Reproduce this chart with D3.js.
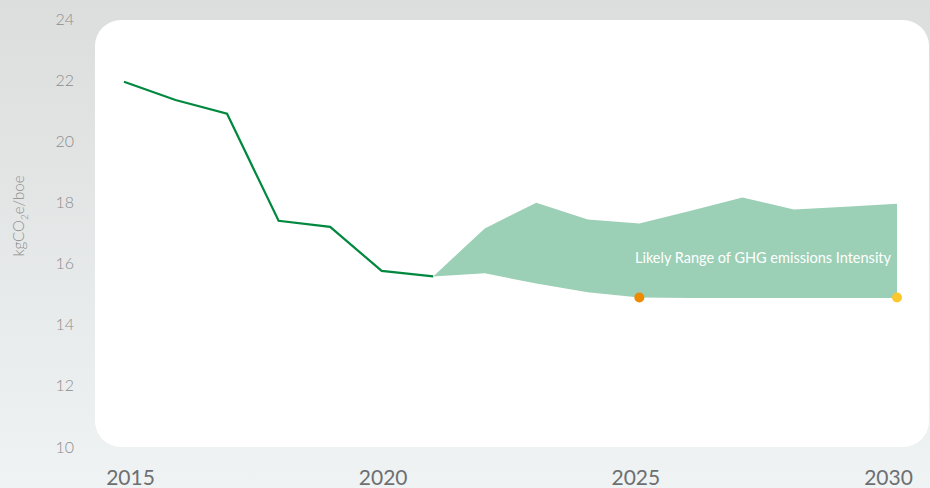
<!DOCTYPE html>
<html>
<head>
<meta charset="utf-8">
<script src="https://cdnjs.cloudflare.com/ajax/libs/d3/7.8.5/d3.min.js"></script>
<style>
  html, body { margin: 0; padding: 0; }
  body { width: 930px; height: 488px; overflow: hidden; }
  svg { display: block; font-family: Lato, "Open Sans", sans-serif; }
</style>
</head>
<body>
<svg id="chart" width="930" height="488"></svg>
<script>
// history (actual) emissions intensity
var histYears = [2015, 2016, 2017, 2018, 2019, 2020, 2021];
var histValues = [21.95, 21.35, 20.9, 17.4, 17.2, 15.76, 15.58];

// likely range band
var rangeYears = [2021, 2022, 2023, 2024, 2025, 2026, 2027, 2028, 2029, 2030];
var rangeHigh = [15.58, 17.15, 17.99, 17.44, 17.31, 17.73, 18.16, 17.77, 17.86, 17.96];
var rangeLow = [15.58, 15.68, 15.35, 15.06, 14.89, 14.87, 14.87, 14.87, 14.87, 14.87];

// target markers
var targetYears = [2025, 2030];
var targetValues = [14.89, 14.89];
var targetColors = ["#ee8a00", "#fcc72c"];

var yTicks = [10, 12, 14, 16, 18, 20, 22, 24];
var xTickLabels = ["2015", "2020", "2025", "2030"];
var bandLabel = "Likely Range of GHG emissions Intensity";

var svg = d3.select("#chart"),
    width = +svg.attr("width"),
    height = +svg.attr("height");

var defs = svg.append("defs");
var grad = defs.append("linearGradient").attr("id", "bg").attr("x1", 0).attr("y1", 0).attr("x2", 0).attr("y2", 1);
grad.append("stop").attr("offset", "0%").attr("stop-color", "#dcdddd");
grad.append("stop").attr("offset", "100%").attr("stop-color", "#eff3f3");

svg.append("rect").attr("width", width).attr("height", height).attr("fill", "url(#bg)");

// white panel
svg.append("rect")
    .attr("x", 95).attr("y", 20)
    .attr("width", 834).attr("height", 427)
    .attr("rx", 26).attr("ry", 26)
    .attr("fill", "#ffffff");

var x = d3.scaleLinear().domain([2015, 2030]).range([124, 897]);
var y = d3.scaleLinear().domain([10, 24]).range([447, 19]);
// category-style axis labels sit slightly off the data positions
var xLab = d3.scaleLinear().domain([2015, 2030]).range([130, 888]);

// y axis
var yAxis = svg.append("g")
    .attr("transform", "translate(74,0)")
    .call(d3.axisLeft(y).tickValues(yTicks).tickSize(0).tickPadding(0));
yAxis.select(".domain").remove();
yAxis.selectAll("text")
    .attr("fill", "#8b8c8d")
    .style("font-size", "16px")
    .style("font-weight", 300)
    .style("font-family", "Lato, sans-serif");

// x axis
var xAxis = svg.append("g")
    .attr("transform", "translate(0,470)")
    .call(d3.axisBottom(xLab).tickValues(xTickLabels.map(Number)).tickFormat(function(d, i) { return xTickLabels[i]; }).tickSize(0).tickPadding(0));
xAxis.select(".domain").remove();
xAxis.selectAll("text")
    .attr("fill", "#6d6f71")
    .style("font-size", "21px")
    .style("font-weight", 400)
    .style("font-family", "Lato, sans-serif");

// y axis title
var yTitle = svg.append("text")
    .attr("transform", "translate(24,216) rotate(-90)")
    .attr("text-anchor", "middle")
    .attr("fill", "#8b8c8d")
    .style("font-size", "15px")
    .style("font-weight", 300);
yTitle.append("tspan").text("kgCO");
yTitle.append("tspan").attr("font-size", "10px").attr("dy", "4").text("2");
yTitle.append("tspan").attr("dy", "-4").text("e/boe");

// range band
var area = d3.area()
    .x(function(d, i) { return x(rangeYears[i]); })
    .y0(function(d, i) { return y(rangeLow[i]); })
    .y1(function(d) { return y(d); });

svg.append("path")
    .datum(rangeHigh)
    .attr("d", area)
    .attr("fill", "#9bcfb6");

svg.append("text")
    .attr("x", x(2027.4))
    .attr("y", y(16.0) - 1)
    .attr("text-anchor", "middle")
    .attr("fill", "#ffffff")
    .style("font-size", "14.5px")
    .text(bandLabel);

// history line
var line = d3.line()
    .x(function(d, i) { return x(histYears[i]); })
    .y(function(d) { return y(d); });

svg.append("path")
    .datum(histValues)
    .attr("d", line)
    .attr("fill", "none")
    .attr("stroke", "#00883f")
    .attr("stroke-width", 2.2);

// target dots
svg.selectAll(".target")
    .data(targetValues)
    .enter().append("circle")
    .attr("class", "target")
    .attr("cx", function(d, i) { return x(targetYears[i]); })
    .attr("cy", function(d) { return y(d); })
    .attr("r", 5)
    .attr("fill", function(d, i) { return targetColors[i]; });
</script>
</body>
</html>
